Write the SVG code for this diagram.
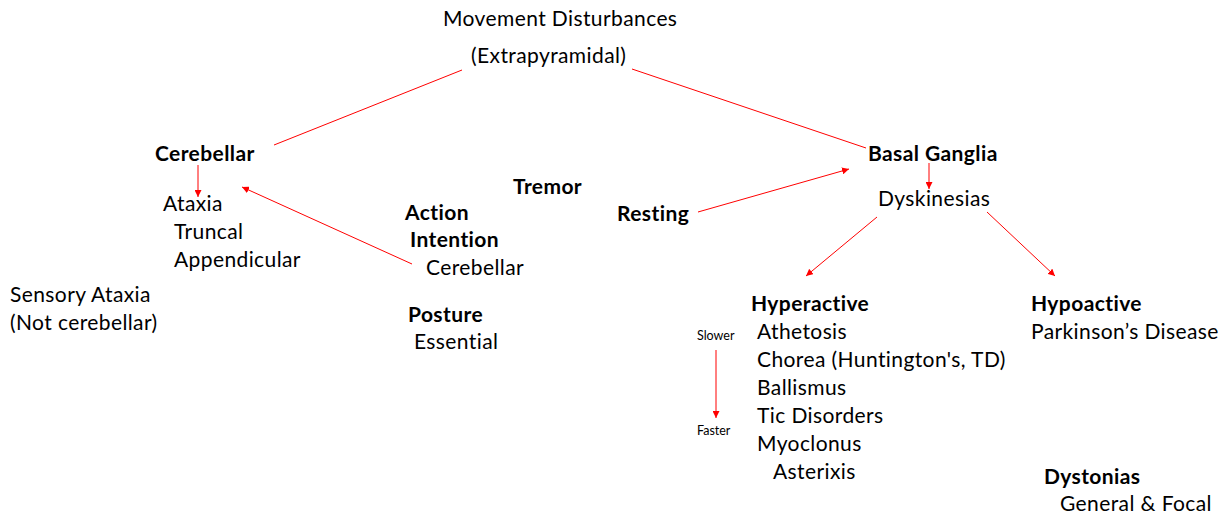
<svg xmlns="http://www.w3.org/2000/svg" width="1229" height="517" viewBox="0 0 1229 517">
  <style>
    text { font-family: Lato, "Liberation Sans", Arial, sans-serif; font-size: 21px; letter-spacing: 0.4px; fill: #000; }
    .b { font-weight: bold; }
    .s { font-size: 12.5px; letter-spacing: 0; }
    .c { stroke: #ff0000; stroke-width: 1; fill: none; }
  </style>
  <defs>
    <marker id="arr" viewBox="0 0 10 10" refX="10" refY="5" markerWidth="7" markerHeight="7" markerUnits="userSpaceOnUse" orient="auto">
      <path d="M0,0 L10,5 L0,10 z" fill="#ff0000"/>
    </marker>
  </defs>
  <rect width="1229" height="517" fill="#fff"/>

  <g id="connectors">
    <line class="c" x1="274" y1="145" x2="462" y2="70"/>
    <line class="c" x1="632" y1="69" x2="866" y2="148"/>
    <line class="c" x1="198" y1="165" x2="198" y2="197" marker-end="url(#arr)"/>
    <line class="c" x1="412" y1="264" x2="242" y2="187" marker-end="url(#arr)"/>
    <line class="c" x1="698" y1="212" x2="849" y2="169" marker-end="url(#arr)"/>
    <line class="c" x1="929" y1="163" x2="929" y2="189" marker-end="url(#arr)"/>
    <line class="c" x1="877" y1="217" x2="806" y2="276" marker-end="url(#arr)"/>
    <line class="c" x1="987" y1="212" x2="1055" y2="276" marker-end="url(#arr)"/>
    <line class="c" x1="716" y1="350" x2="716" y2="418" marker-end="url(#arr)"/>
  </g>

  <g id="root">
    <text x="443" y="26">Movement Disturbances</text>
    <text x="471" y="63">(Extrapyramidal)</text>
  </g>

  <g id="cerebellar">
    <text class="b" x="155" y="161">Cerebellar</text>
  </g>
  <g id="ataxia">
    <text x="163" y="211">Ataxia</text>
    <text x="174" y="239">Truncal</text>
    <text x="174" y="267">Appendicular</text>
  </g>
  <g id="sensory-ataxia">
    <text x="10" y="302">Sensory Ataxia</text>
    <text x="10" y="330">(Not cerebellar)</text>
  </g>

  <g id="tremor">
    <text class="b" x="513" y="194">Tremor</text>
  </g>
  <g id="action">
    <text class="b" x="405" y="220">Action</text>
    <text class="b" x="410" y="247">Intention</text>
    <text x="426" y="275">Cerebellar</text>
  </g>
  <g id="posture">
    <text class="b" x="408" y="322">Posture</text>
    <text x="414" y="349">Essential</text>
  </g>
  <g id="resting">
    <text class="b" x="617" y="221">Resting</text>
  </g>

  <g id="basal-ganglia">
    <text class="b" x="868" y="161">Basal Ganglia</text>
  </g>
  <g id="dyskinesias">
    <text x="878" y="206">Dyskinesias</text>
  </g>

  <g id="hyperactive">
    <text class="b" x="751" y="311">Hyperactive</text>
    <text x="757" y="339">Athetosis</text>
    <text x="757" y="367">Chorea (Huntington's, TD)</text>
    <text x="757" y="395">Ballismus</text>
    <text x="757" y="423">Tic Disorders</text>
    <text x="757" y="451">Myoclonus</text>
    <text x="773" y="479">Asterixis</text>
  </g>
  <g id="speed-scale">
    <text class="s" x="697" y="340">Slower</text>
    <text class="s" x="697" y="435">Faster</text>
  </g>

  <g id="hypoactive">
    <text class="b" x="1031" y="311">Hypoactive</text>
    <text x="1031" y="339">Parkinson’s Disease</text>
  </g>

  <g id="dystonias">
    <text class="b" x="1044" y="484">Dystonias</text>
    <text x="1060" y="511">General &amp; Focal</text>
  </g>
</svg>
